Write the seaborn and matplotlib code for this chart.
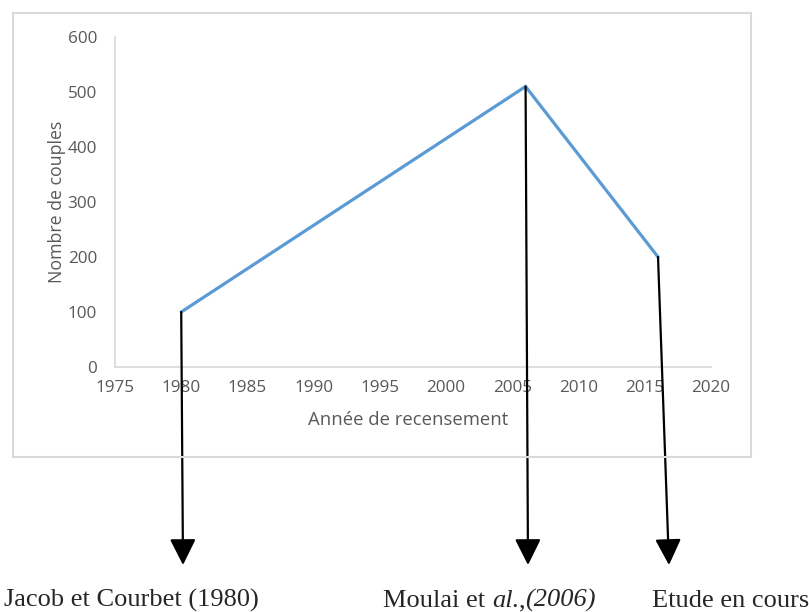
import matplotlib
matplotlib.use("Agg")
import matplotlib.pyplot as plt
from matplotlib.patches import Rectangle
import seaborn as sns
import pandas as pd

# Census data: breeding pairs by census year
years = [1980, 2006, 2016]
pairs = [100, 510, 200]
sources = ["Jacob et Courbet (1980)", "Moulai et al.,(2006)", "Etude en cours"]

x_ticks = [1975, 1980, 1985, 1990, 1995, 2000, 2005, 2010, 2015, 2020]
y_ticks = [0, 100, 200, 300, 400, 500, 600]

df = pd.DataFrame({"Année de recensement": years, "Nombre de couples": pairs})

sns.set_style("white")
plt.rcParams["font.family"] = ["Open Sans", "DejaVu Sans"]

W, H = 809, 612
fig = plt.figure(figsize=(W / 100, H / 100), dpi=100)
fig.patch.set_facecolor("white")

# plot area in pixel layout (left, top, right, bottom from the top-left corner)
pl, pt, pr, pb = 115, 37, 711, 367
ax = fig.add_axes([pl / W, 1 - pb / H, (pr - pl) / W, (pb - pt) / H])

sns.lineplot(data=df, x="Année de recensement", y="Nombre de couples", ax=ax,
             color="#5B9BD5", linewidth=2.3, solid_joinstyle="miter")

ax.set_xlim(1975, 2020)
ax.set_ylim(0, 600)
ax.set_xticks(x_ticks)
ax.set_yticks(y_ticks)
grey = "#595959"
ax.tick_params(axis="both", length=0, labelsize=12.3, labelcolor=grey)
ax.tick_params(axis="x", pad=9)
ax.tick_params(axis="y", pad=13)
for side in ["top", "right"]:
    ax.spines[side].set_visible(False)
for side in ["left", "bottom"]:
    ax.spines[side].set_color("#D9D9D9")
    ax.spines[side].set_linewidth(1.2)

ax.set_xlabel("Année de recensement", fontsize=13.3, color=grey)
ax.set_ylabel("Nombre de couples", fontsize=12.8, color=grey)
ax.xaxis.set_label_coords((408 - pl) / (pr - pl), (pb - 411) / (pb - pt))
ax.yaxis.label.set_verticalalignment("center")
ax.yaxis.set_label_coords((57 - pl) / (pr - pl), 0.5)

# chart frame
fig.add_artist(Rectangle((13 / W, 1 - 457 / H), (751 - 13) / W, (457 - 13) / H,
                         transform=fig.transFigure, fill=False,
                         edgecolor="#D9D9D9", linewidth=1.5))

# arrows from each census point down to its source
arrow_end_x = [183, 528, 669]
arrow_end_y = H - 565
for yr, val, ex in zip(years, pairs, arrow_end_x):
    ax.annotate("", xy=(ex, arrow_end_y), xycoords="figure pixels",
                xytext=(yr, val), textcoords="data",
                arrowprops=dict(arrowstyle="-|>,head_length=1.0,head_width=0.5",
                                color="black", lw=1.6, shrinkA=0, shrinkB=0,
                                mutation_scale=16),
                annotation_clip=False)

serif = ["Liberation Serif", "DejaVu Serif"]
fs = 19
base_y = (H - 607) / H

fig.text(4 / W, base_y, sources[0], family=serif, fontsize=fs, va="baseline", ha="left")
fig.text(652 / W, base_y, sources[2], family=serif, fontsize=fs, va="baseline", ha="left")

# mixed upright / italic citation
fig.canvas.draw()
renderer = fig.canvas.get_renderer()
parts = [("Moulai et ", "normal"), ("al.", "italic"), (",", "normal"), ("(2006)", "italic")]
x = 383
for txt, style in parts:
    t = fig.text(x / W, base_y, txt, family=serif, fontsize=fs, style=style,
                 va="baseline", ha="left")
    bb = t.get_window_extent(renderer=renderer)
    x += bb.width

fig.savefig("out.png", dpi=100, facecolor="white")
